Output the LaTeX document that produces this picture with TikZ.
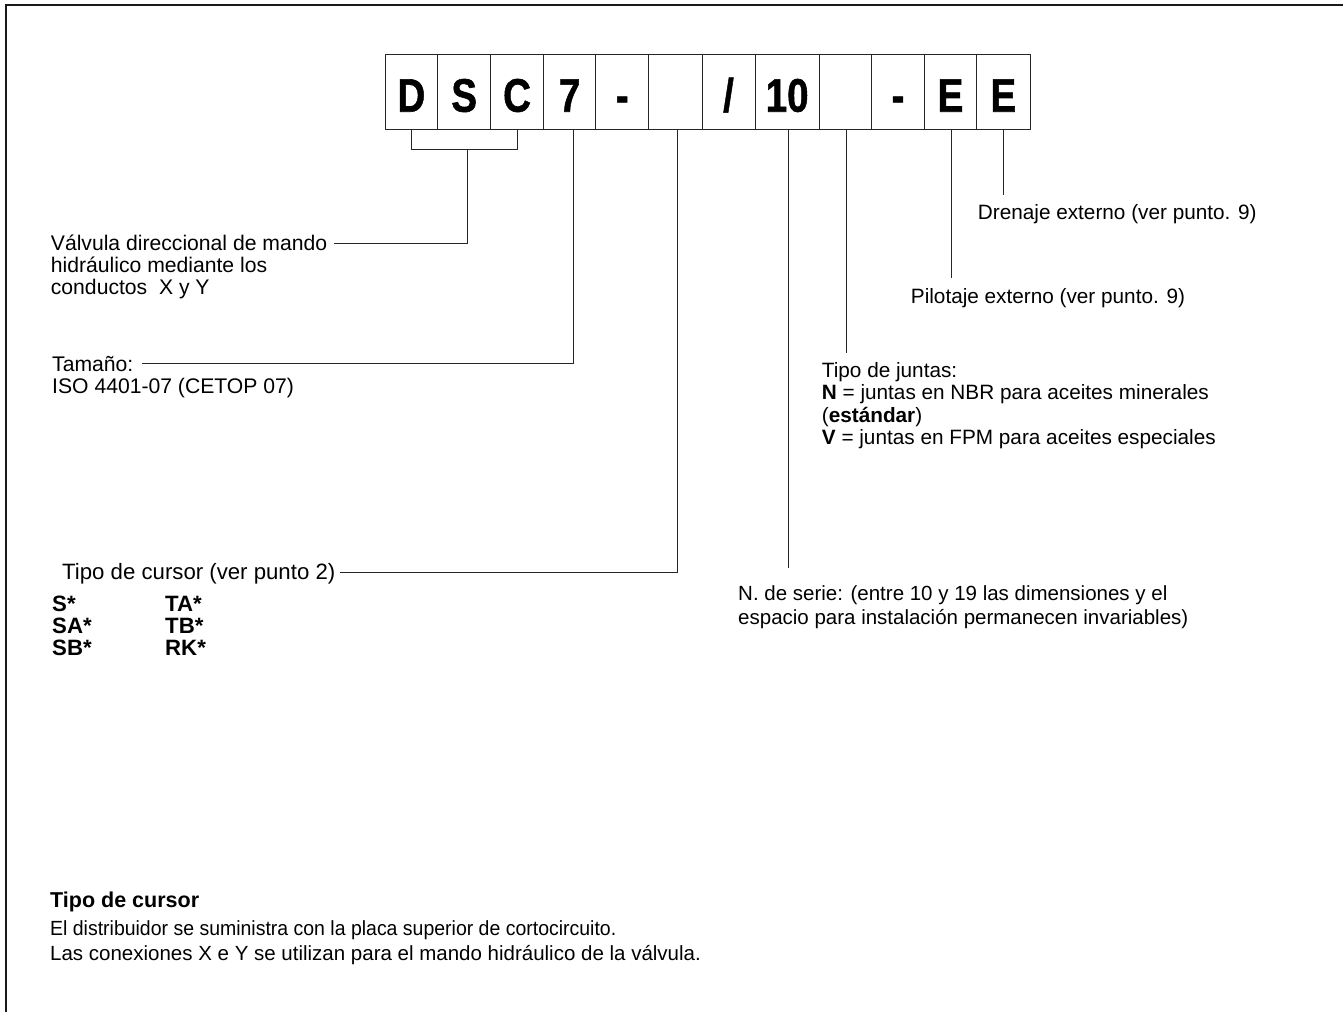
\documentclass[tikz,border=0pt]{standalone}
\usepackage{fontspec}
\setmainfont{Liberation Sans}
\newfontfamily\cellfont{Liberation Sans}[BoldFeatures={FakeBold=1.3}]
\usetikzlibrary{calc}
\newcommand\narrowtxt[1]{\scalebox{0.82}[1]{#1}}
\begin{document}
\begin{tikzpicture}[x=1pt,y=-1pt,
  cell/.style={draw=black!85, line width=0.9pt, minimum height=74.7, inner sep=0,
    text height=40.1, text depth=0, font=\fontsize{47}{47}\selectfont\cellfont\bfseries},
  conn/.style={draw=black!85, line width=0.9pt},
  lbl/.style={anchor=base west, inner sep=0, font=\fontsize{20.75}{22.5}\selectfont},
  lblA/.style={lbl, font=\fontsize{21.15}{22.4}\selectfont},
  lblB/.style={lbl, font=\fontsize{20.5}{24}\selectfont},
  lblC/.style={lbl, font=\fontsize{22.2}{22.5}\selectfont},
  frame/.style={draw=black!90, line width=1.6pt}]
\useasboundingbox (0,0) rectangle (1343,1012);
\draw[frame] (6,1012) -- (6,5) -- (1343,5);

% code boxes
\node[cell, minimum width=52.7] (b1) at (411.35,91.65) {\narrowtxt{D}};
\node[cell, minimum width=53.0] (b2) at (464.2,91.65) {\narrowtxt{S}};
\node[cell, minimum width=52.7] (b3) at (517.05,91.65) {\narrowtxt{C}};
\node[cell, minimum width=52.4] (b4) at (569.6,91.65) {\narrowtxt{7}};
\node[cell, minimum width=52.9] (b5) at (622.25,91.65) {\narrowtxt{-}};
\node[cell, minimum width=53.3] (b6) at (675.35,91.65) {};
\node[cell, minimum width=53.0] (b7) at (728.5,91.65) {\narrowtxt{/}};
\node[cell, minimum width=64.3] (b8) at (787.15,91.65) {\narrowtxt{10}};
\node[cell, minimum width=52.1] (b9) at (845.35,91.65) {};
\node[cell, minimum width=53.0] (b10) at (897.9,91.65) {\narrowtxt{-}};
\node[cell, minimum width=52.2] (b11) at (950.5,91.65) {\narrowtxt{E}};
\node[cell, minimum width=53.4] (b12) at (1003.3,91.65) {\narrowtxt{E}};

% labels
\node[lblA] (lv) at (50.7,250) {\parbox[t]{400pt}{V\'alvula direccional de mando\\hidr\'aulico mediante los\\conductos \ X y Y}};
\node[lblA] (lt) at (52,371) {\parbox[t]{400pt}{Tama\~no:\\ISO 4401-07 (CETOP 07)}};
\node[lblC] (lc) at (62,579) {Tipo de cursor (ver punto 2)};
\node[lblC] (lc1) at (52,611) {\textbf{S*}};
\node[lblC] (lc2) at (52,633) {\textbf{SA*}};
\node[lblC] (lc3) at (52,655) {\textbf{SB*}};
\node[lblC] (lc4) at (165,611) {\textbf{TA*}};
\node[lblC] (lc5) at (165,633) {\textbf{TB*}};
\node[lblC] (lc6) at (165,655) {\textbf{RK*}};
\node[lblB] (ls) at (738,600) {\parbox[t]{600pt}{N. de serie: (entre 10 y 19 las dimensiones y el\\espacio para instalaci\'on permanecen invariables)}};
\node[lbl] (lj) at (821.7,377) {\parbox[t]{500pt}{Tipo de juntas:\\\textbf{N} = juntas en NBR para aceites minerales\\(\textbf{est\'andar})\\\textbf{V} = juntas en FPM para aceites especiales}};
\node[lbl] (lp) at (910.7,303) {Pilotaje externo (ver punto. 9)};
\node[lbl] (ld) at (977.7,219) {Drenaje externo (ver punto. 9)};

\node[lbl, font=\fontsize{21.5}{24}\selectfont\bfseries] (h) at (50,907) {Tipo de cursor};
\node[lblB] (p1) at (50,935) {\scalebox{0.95}[1]{El distribuidor se suministra con la placa superior de cortocircuito.}};
\node[lblB] (p2) at (50,960) {Las conexiones X e Y se utilizan para el mando hidr\'aulico de la v\'alvula.};

% connectors
\coordinate (bm) at (467.5,149);
\coordinate (lvE) at (334,243.3);
\coordinate (ltE) at (141.7,363.3);
\coordinate (lcE) at (340,572);
\draw[conn] (b1.south) -- (b1.south |- bm) -| (b3.south);
\draw[conn] (bm |- b1.south) ++(0,20) |- (lvE);
\draw[conn] ($(b4.south)+(4.3,0)$) |- (ltE);
\draw[conn] ($(b6.south)+(1.8,0)$) |- (lcE);
\draw[conn] ($(b8.south)+(1.6,0)$) -- ++(0,439);
\draw[conn] ($(b9.south)+(1.2,0)$) -- ++(0,223.7);
\draw[conn] ($(b11.south)+(1.0,0)$) -- ++(0,149);
\draw[conn] ($(b12.south)+(0.5,0)$) -- ++(0,66);
\end{tikzpicture}
\end{document}
